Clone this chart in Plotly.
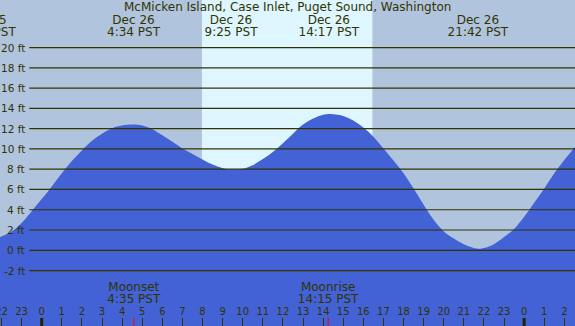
import plotly.graph_objects as go

# ---- data (hours since Dec 26 00:00 PST, feet) ----
tide_hours = [-2.1, -1.5, -1, -0.5, 0, 0.5, 1, 1.5, 2, 2.5, 3, 3.5, 4, 4.57, 5, 5.5, 6,
              6.5, 7, 7.5, 8, 8.5, 9, 9.42, 10, 10.5, 11, 11.5, 12, 12.5, 13, 13.5, 14,
              14.28, 14.5, 15, 15.5, 16, 16.5, 17, 17.5, 18, 18.5, 19, 19.5, 20, 20.5,
              21, 21.7, 22, 22.5, 23, 23.5, 24, 24.5, 25, 25.5, 26, 26.6]
tide_feet = [1.3, 1.85, 2.7, 3.85, 5.05, 6.3, 7.6, 8.8, 9.85, 10.8, 11.5, 12.05, 12.32,
             12.4, 12.32, 11.95, 11.35, 10.7, 10.05, 9.5, 8.95, 8.45, 8.1, 8.0, 8.05,
             8.4, 9.0, 9.7, 10.55, 11.5, 12.4, 13.0, 13.38, 13.45, 13.42, 13.25, 12.8,
             12.1, 11.2, 10.05, 8.85, 7.6, 6.1, 4.5, 3.0, 1.85, 1.15, 0.6, 0.15, 0.22,
             0.6, 1.3, 2.1, 3.3, 4.7, 6.1, 7.6, 8.9, 10.35]

extreme_hours = [-2.8, 4.567, 9.417, 14.283, 21.7]
extreme_dates = ["Dec 25", "Dec 26", "Dec 26", "Dec 26", "Dec 26"]
extreme_times = ["21:12 PST", "4:34 PST", "9:25 PST", "14:17 PST", "21:42 PST"]

moon_hours = [4.583, 14.25]
moon_events = ["Moonset", "Moonrise"]
moon_times = ["4:35 PST", "14:15 PST"]

sunrise_hour = 7.97
sunset_hour = 16.45

grid_feet = [-2, 0, 2, 4, 6, 8, 10, 12, 14, 16, 18, 20]
hour_ticks = list(range(-2, 27))
hour_labels = [str(h % 24) for h in hour_ticks]
midnight_hours = [0, 24]

title_text = "McMicken Island, Case Inlet, Puget Sound, Washington"

# ---- style ----
TXT = "#333300"
FONT = "DejaVu Sans"
NIGHT = "#B0C4DE"
DAY = "#DDF6FF"
WATER = "#4262D6"
X_RANGE = [-2.075, 26.53]
Y_RANGE = [-7.47, 24.69]


def text_row(xs, texts, y_level, size):
    return go.Scatter(x=xs, y=[y_level] * len(xs), mode="text", text=texts,
                      textposition="middle center",
                      textfont=dict(family=FONT, size=size, color=TXT),
                      showlegend=False, cliponaxis=True, hoverinfo="skip")


fig = go.Figure()

# baseline for the fill
fig.add_trace(go.Scatter(x=[X_RANGE[0] - 1, X_RANGE[1] + 1], y=[Y_RANGE[0] - 1] * 2,
                         mode="lines", line=dict(width=0, color=WATER),
                         hoverinfo="skip", showlegend=False))
fig.add_trace(go.Scatter(x=tide_hours, y=tide_feet, mode="lines",
                         line=dict(color=WATER, width=0, shape="spline", smoothing=1.0),
                         fill="tonexty", fillcolor=WATER, showlegend=False))

# extreme labels (top) and moon labels (bottom)
fig.add_trace(text_row(extreme_hours, extreme_dates, 22.65, 12))
fig.add_trace(text_row(extreme_hours, extreme_times, 21.43, 12))
fig.add_trace(text_row(moon_hours, moon_events, -3.75, 12))
fig.add_trace(text_row(moon_hours, moon_times, -4.93, 12))

shapes = []
# daylight band
shapes.append(dict(type="rect", xref="x", yref="paper", x0=sunrise_hour, x1=sunset_hour,
                   y0=0, y1=1, fillcolor=DAY, line=dict(width=0), layer="below"))
# grid lines
for v in grid_feet:
    shapes.append(dict(type="line", xref="paper", yref="y", x0=29.3 / 575, x1=1, y0=v, y1=v,
                       line=dict(color=TXT, width=1.2), layer="above"))
# midnight ticks
for h in midnight_hours:
    shapes.append(dict(type="line", xref="x", yref="paper", x0=h, x1=h, y0=0, y1=8 / 326,
                       line=dict(color="#222200", width=3), layer="above"))
# moon ticks
for h in moon_hours:
    shapes.append(dict(type="line", xref="x", yref="paper", x0=h, x1=h, y0=0, y1=8 / 326,
                       line=dict(color="red", width=1), layer="above"))

annotations = [dict(text=title_text, xref="paper", yref="paper", x=0.5, y=1 - 7 / 326,
                    xanchor="center", yanchor="middle", showarrow=False,
                    font=dict(family=FONT, size=12, color=TXT))]
for v in grid_feet:
    annotations.append(dict(text=f"{v} ft", xref="paper", yref="y", x=27 / 575, y=v,
                            xanchor="right", yanchor="middle", showarrow=False,
                            font=dict(family=FONT, size=10.5, color=TXT)))

fig.update_layout(
    width=575, height=326, autosize=False,
    margin=dict(l=0, r=0, t=0, b=0, pad=0, autoexpand=False),
    paper_bgcolor=NIGHT, plot_bgcolor=NIGHT,
    shapes=shapes, annotations=annotations,
    showlegend=False,
    xaxis=dict(range=X_RANGE, showgrid=False, zeroline=False, showline=False,
               automargin=False,
               tickmode="array", tickvals=hour_ticks, ticktext=hour_labels,
               ticks="inside", ticklen=8, tickwidth=1, tickcolor=TXT,
               ticklabelposition="inside", ticklabeloverflow="allow",
               tickfont=dict(family=FONT, size=10, color=TXT),
               layer="above traces", fixedrange=True),
    yaxis=dict(range=Y_RANGE, visible=False, automargin=False, fixedrange=True),
)

fig.write_html("out.html", config={"displayModeBar": False},
               post_script="document.body.style.margin='0';document.body.style.padding='0';"
                           "document.body.style.overflow='hidden';")
